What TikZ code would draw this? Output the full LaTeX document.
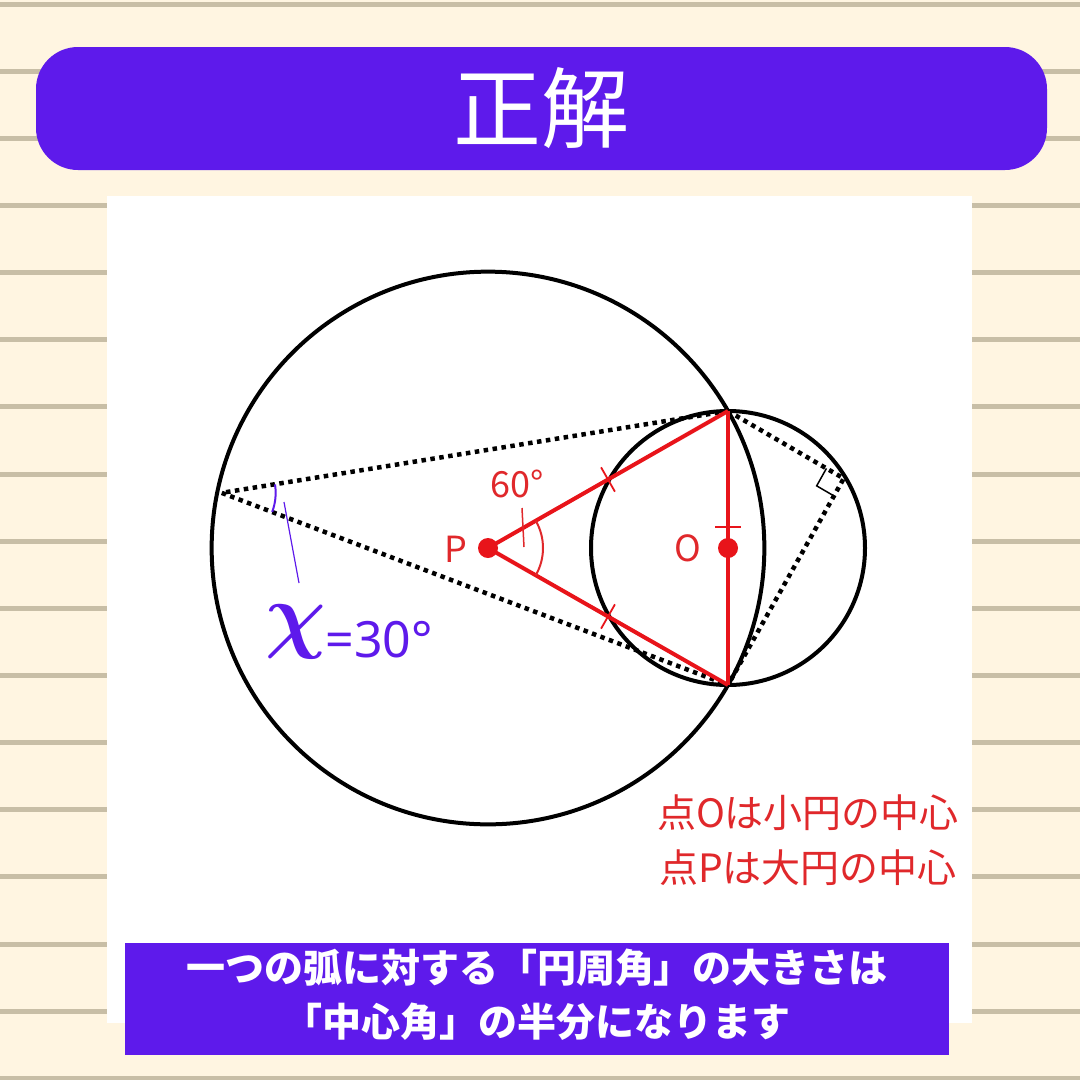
\documentclass[tikz,border=0pt]{standalone}
\usepackage{fontspec}
\setmainfont{Noto Sans}
\newfontfamily\jpfont{Noto Sans CJK JP}
\usepackage{tikz}
\usetikzlibrary{calc}
\definecolor{note-cream}{HTML}{FFF5E1}
\definecolor{note-line}{HTML}{C8BEA6}
\definecolor{answer-purple}{HTML}{5E1AEB}
\definecolor{mark-red}{HTML}{E8141A}
\definecolor{label-red}{HTML}{E0282B}

\begin{document}
\begin{tikzpicture}[x=1pt, y=-1pt,
    circ/.style={line width=4pt},
    redseg/.style={mark-red, line width=4pt},
    dots/.style={line width=4.5pt, dash pattern=on 4.5pt off 4.5pt, line join=bevel},
    tick/.style={mark-red, line width=1.8pt},
    redlabel/.style={label-red, font=\jpfont\fontsize{36}{36}\selectfont}]
    \useasboundingbox (0,0) rectangle (1080,1080);

    % Paper
    \fill[note-cream] (0,0) rectangle (1080,1080);
    \foreach \k in {0,...,16} {
        \fill[note-line] (0,{1.5+67.15*\k}) rectangle (1080,{6.5+67.15*\k});
    }

    % Title banner
    \fill[answer-purple, rounded corners=42pt] (36,47) rectangle (1047,170);
    \node[white, font=\jpfont\fontsize{88}{88}\selectfont] (title) at (541,108) {正解};

    % Panel
    \fill[white] (107,196) rectangle (972,1023);

    % Points
    \coordinate (P) at (488,548);
    \coordinate (O) at (728,548);
    \coordinate (A) at (728,411);
    \coordinate (B) at (728,685);
    \coordinate (C) at ($(P)+(168.3:272pt)$);
    \coordinate (D) at ($(O)+(31:135pt)$);

    % Circles
    \draw[circ] (P) circle[radius=276.35pt];
    \draw[circ] (O) circle[radius=137pt];

    % Inscribed angles
    \draw[dots] (A) -- (C) -- (B);
    \draw[dots] (A) -- (D) -- (B);
    \coordinate (D1) at ($(D)!20pt!(A)$);
    \coordinate (D3) at ($(D)!20pt!(B)$);
    \draw[line width=1.5pt] (D1) -- ($(D1)+(D3)-(D)$) -- (D3);

    % Central angle
    \draw[redseg] (A) -- (P) -- (B);
    \draw[redseg] (A) -- (B);
    \draw[tick] ($(P)!0.5!(A)!14pt!90:(A)$) -- ($(P)!0.5!(A)!14pt!-90:(A)$);
    \draw[tick] ($(P)!0.5!(B)!14pt!90:(B)$) -- ($(P)!0.5!(B)!14pt!-90:(B)$);
    \draw[tick] (715,527) -- (741,527);
    \fill[mark-red] (P) circle[radius=10pt];
    \fill[mark-red] (O) circle[radius=10pt];
    \draw[label-red, line width=2pt] ($(P)+(-29.7:55pt)$) arc[start angle=-29.7, end angle=29.7, radius=55pt];
    \coordinate (p-lead) at (522,508);
    \coordinate (p-arc) at (524,547);
    \draw[label-red, line width=1.5pt] (p-lead) -- (p-arc);
    \node[redlabel] (sixty) at (517,484) {60°};
    \node[redlabel] (plabel) at (456,549) {P};
    \node[redlabel] (olabel) at (688,548) {O};

    % Answer
    \draw[answer-purple, line width=2pt] ($(C)+(-20.7:54pt)$) arc[start angle=-20.7, end angle=9, radius=54pt];
    \coordinate (x-arc) at (284,502);
    \coordinate (x-lead) at (299,583);
    \draw[answer-purple, line width=1.2pt] (x-arc) -- (x-lead);
    \node[answer-purple, scale=3.4, font=\Huge\boldmath] (chi) at (296,632) {$\chi$};
    \node[answer-purple, anchor=west, font=\fontsize{50}{50}\selectfont] (xval) at (322,640) {=30°};

    % Notes
    \node[redlabel, font=\jpfont\fontsize{39}{39}\selectfont] (info1) at (808,813) {点Oは小円の中心};
    \node[redlabel, font=\jpfont\fontsize{39}{39}\selectfont] (info2) at (808,868) {点Pは大円の中心};

    % Rule box
    \fill[answer-purple] (125,943) rectangle (949,1055);
    \node[white, font=\jpfont\bfseries\fontsize{39}{39}\selectfont] (rule1) at (537,968) {一つの弧に対する「円周角」の大きさは};
    \node[white, font=\jpfont\bfseries\fontsize{39}{39}\selectfont] (rule2) at (537,1022) {「中心角」の半分になります};
\end{tikzpicture}
\end{document}
